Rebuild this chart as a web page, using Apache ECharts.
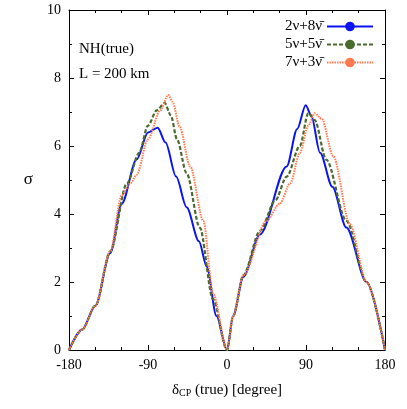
<!DOCTYPE html>
<html><head><meta charset="utf-8">
<script src="https://cdn.jsdelivr.net/npm/echarts@6/dist/echarts.min.js"></script>
<style>html,body{margin:0;background:#fff}#c{width:407px;height:409px}</style>
</head><body><div id="c"></div>
<script>
const names = ['2\u03bd+8\u03bd\u0304', '5\u03bd+5\u03bd\u0304', '7\u03bd+3\u03bd\u0304'];
const blue = [[-180,0],[-165,0.6],[-150,1.3],[-133,2.85],[-120,4.3],[-103,5.6],[-90,6.4],[-79,6.54],[-70,6.1],[-58,5.1],[-46,4.2],[-32,3.2],[-23,2.45],[-12,1],[0,0],[7,1],[18.6,2.15],[37.6,3.4],[68,5.4],[80,6.5],[89.6,7.2],[96,6.9],[106,5.8],[120,4.8],[136,3.6],[159,2],[180,0]];
const green = [[-180,0],[-165,0.6],[-150,1.3],[-133,2.9],[-114,4.9],[-100,5.8],[-90,6.6],[-80,7.05],[-71,7.27],[-64,6.9],[-57,6.2],[-46,5.2],[-31,3.6],[-16,1.5],[0,0],[7,1],[18.6,2.2],[37.6,3.5],[55,4.4],[68,5.1],[83,6],[92.6,6.96],[100,6.76],[113,5.6],[136,3.8],[159,2],[180,0]];
const orange = [[-180,0],[-165,0.6],[-150,1.3],[-133,2.9],[-120,4.55],[-110,4.9],[-103,5.15],[-90,6.2],[-76,7.05],[-67,7.5],[-62,7.3],[-54,6.57],[-42,5.4],[-27,3.8],[-16,1.67],[0,0],[7,1],[18.6,2.2],[45,3.8],[60,4.3],[72,4.9],[83,5.8],[92.6,6.6],[100,6.96],[108,6.8],[121,5.7],[140,3.7],[159,2],[180,0]];
const font = 'Liberation Serif';
const chart = echarts.init(document.getElementById('c'));
const tickLine = {color: '#000'};
function axis(extra, minorSplit) {
  return Object.assign({
    type: 'value',
    axisLine: {show: true, onZero: false, lineStyle: {color: '#000', width: 1}},
    axisTick: {inside: true, length: 5, lineStyle: tickLine},
    minorTick: {show: true, splitNumber: minorSplit, length: 3, lineStyle: tickLine},
    splitLine: {show: false}
  }, extra);
}
chart.setOption({
  animation: false,
  grid: {left: 69, right: 22, top: 10, bottom: 59},
  textStyle: {fontFamily: font},
  legend: {
    orient: 'vertical', right: 28, top: 14, align: 'right', itemWidth: 46, itemHeight: 12, itemGap: 3,
    textStyle: {fontFamily: font, fontSize: 15, color: '#000'},
    data: names
  },
  xAxis: [
    axis({min: -180, max: 180, interval: 90,
      axisLabel: {fontFamily: font, fontSize: 14, color: '#000', margin: 8},
      name: '{a|\u03b4}{s|CP}{a| (true) [degree]}', nameLocation: 'middle', nameGap: 32,
      nameTextStyle: {rich: {a: {fontFamily: font, fontSize: 15, color: '#000'}, s: {fontFamily: font, fontSize: 10, color: '#000', verticalAlign: 'bottom', padding: [6, 0, 0, 0]}}}
    }, 3),
    axis({min: -180, max: 180, interval: 90, position: 'top', axisLabel: {show: false}}, 3)
  ],
  yAxis: [
    axis({min: 0, max: 10, interval: 2,
      axisLabel: {fontFamily: font, fontSize: 14, color: '#000', margin: 8},
      name: '\u03c3', nameLocation: 'middle', nameGap: 36, nameRotate: 0,
      nameTextStyle: {fontFamily: font, fontSize: 17, color: '#000'}
    }, 2),
    axis({min: 0, max: 10, interval: 2, position: 'right', axisLabel: {show: false}}, 2)
  ],
  graphic: [
    {type: 'text', left: 79, top: 42, style: {text: 'NH(true)', font: '15px "Liberation Serif"', fill: '#000'}},
    {type: 'text', left: 79, top: 67, style: {text: 'L = 200 km', font: '15px "Liberation Serif"', fill: '#000'}}
  ],
  series: [
    {name: names[0], type: 'line', smooth: 0.3, smoothMonotone: 'x', symbol: 'none', data: blue, lineStyle: {color: '#0a14f0', width: 2}, itemStyle: {color: '#0a14f0'}},
    {name: names[1], type: 'line', smooth: 0.3, smoothMonotone: 'x', symbol: 'none', data: green, lineStyle: {color: '#4b6b2e', width: 2.2, type: [4, 2]}, itemStyle: {color: '#4b6b2e'}},
    {name: names[2], type: 'line', smooth: 0.3, smoothMonotone: 'x', symbol: 'none', data: orange, lineStyle: {color: '#ff7a50', width: 2, type: [1.5, 1]}, itemStyle: {color: '#ff7a50'}}
  ]
});
</script></body></html>
